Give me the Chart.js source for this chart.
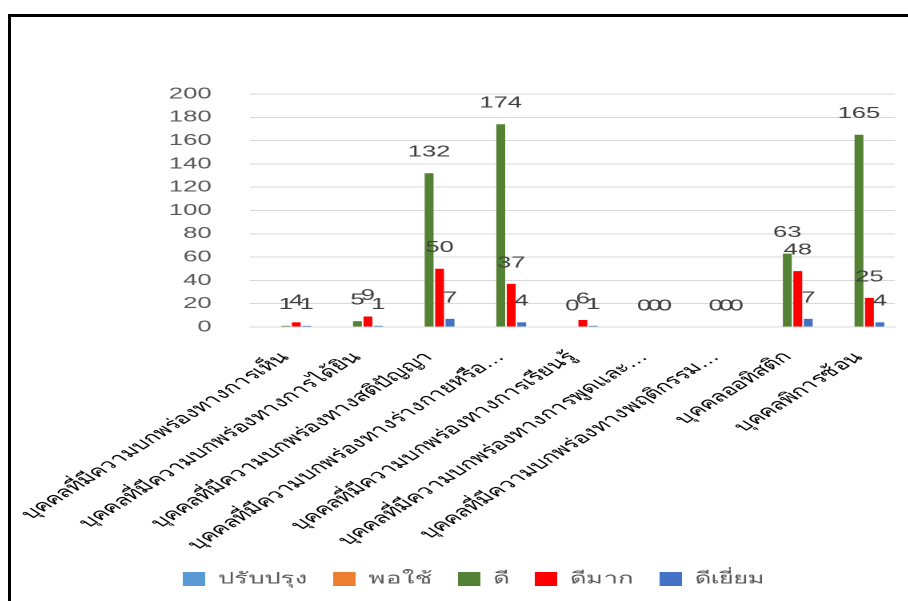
<!DOCTYPE html>
<html>
<head>
<meta charset="utf-8">
<script src="https://cdn.jsdelivr.net/npm/chart.js@4/dist/chart.umd.min.js"></script>
<style>
  html, body { margin: 0; padding: 0; background: #fff; overflow: hidden; }
  body { width: 908px; height: 601px; position: relative; }
  .frame { position: absolute; left: 8px; top: 14px; width: 960px; height: 700px;
           border-top: 3px solid #000; border-left: 3px solid #000; }
  .wrap { position: absolute; left: 10px; top: 0; width: 636px; height: 601px;
          transform: scaleX(1.6); transform-origin: 0 0; }
</style>
</head>
<body>
<div class="frame"></div>
<div class="wrap"><canvas id="chart"></canvas></div>
<script>
// categories and series
const categories = [
  'บุคคลที่มีความบกพร่องทางการเห็น',
  'บุคคลที่มีความบกพร่องทางการได้ยิน',
  'บุคคลที่มีความบกพร่องทางสติปัญญา',
  'บุคคลที่มีความบกพร่องทางร่างกายหรือ…',
  'บุคคลที่มีความบกพร่องทางการเรียนรู้',
  'บุคคลที่มีความบกพร่องทางการพูดและ…',
  'บุคคลที่มีความบกพร่องทางพฤติกรรม…',
  'บุคคลออทิสติก',
  'บุคคลพิการซ้อน',
];
const improve  = [null, null, null, null, null, null, null, null, null]; // ปรับปรุง
const fair     = [null, null, null, null, null, null, null, null, null]; // พอใช้
const good     = [1, 5, 132, 174, 0, 0, 0, 63, 165];                    // ดี
const veryGood = [4, 9, 50, 37, 6, 0, 0, 48, 25];                       // ดีมาก
const excellent= [1, 1, 7, 4, 1, 0, 0, 7, 4];                          // ดีเยี่ยม
const yTicks   = [0, 20, 40, 60, 80, 100, 120, 140, 160, 180, 200];

const FONT = "'Liberation Sans', Arial, 'Noto Sans', sans-serif";

// value labels above bars
const valueLabels = {
  id: 'valueLabels',
  afterDatasetsDraw(chart) {
    const ctx = chart.ctx;
    ctx.save();
    ctx.font = '16px ' + FONT;
    ctx.fillStyle = '#404040';
    ctx.textAlign = 'center';
    ctx.textBaseline = 'middle';
    chart.data.datasets.forEach((ds, i) => {
      const meta = chart.getDatasetMeta(i);
      meta.data.forEach((bar, j) => {
        const v = ds.data[j];
        if (v === null || v === undefined) return;
        ctx.fillText(String(v), bar.x, bar.y - 21);
      });
    });
    ctx.restore();
  }
};

new Chart(document.getElementById('chart'), {
  type: 'bar',
  data: {
    labels: categories,
    datasets: [
      { label: 'ปรับปรุง', data: improve,   backgroundColor: '#5B9BD5' },
      { label: 'พอใช้',    data: fair,      backgroundColor: '#ED7D31' },
      { label: 'ดี',       data: good,      backgroundColor: '#548235' },
      { label: 'ดีมาก',    data: veryGood,  backgroundColor: '#FF0000' },
      { label: 'ดีเยี่ยม',  data: excellent, backgroundColor: '#4472C4' },
    ],
  },
  options: {
    responsive: true,
    maintainAspectRatio: false,
    animation: false,
    devicePixelRatio: 2,
    categoryPercentage: 0.73,
    barPercentage: 0.85,
    layout: { padding: { left: 27, top: 94, right: 83, bottom: 4 } },
    plugins: {
      legend: {
        position: 'bottom',
        labels: {
          boxWidth: 14, boxHeight: 14, padding: 16,
          color: '#595959', font: { family: FONT, size: 16 },
        },
      },
      tooltip: { enabled: false },
    },
    scales: {
      x: {
        grid: { display: false, drawTicks: false },
        border: { color: '#D9D9D9' },
        ticks: {
          color: '#000', font: { family: FONT, size: 15.5 },
          minRotation: 45, maxRotation: 45, autoSkip: false, padding: 21,
        },
        afterFit: s => { s.height = 228; s.paddingLeft = 0; s.paddingRight = 0; },
      },
      y: {
        min: 0, max: 200,
        afterBuildTicks: s => { s.ticks = yTicks.map(v => ({ value: v })); },
        grid: { color: '#D9D9D9', drawTicks: false },
        border: { display: false },
        ticks: { color: '#595959', font: { family: FONT, size: 16 }, padding: 24 },
        afterFit: s => { s.width = 123; s.paddingTop = 0; s.paddingBottom = 0; },
      },
    },
  },
  plugins: [valueLabels],
});
</script>
</body>
</html>
